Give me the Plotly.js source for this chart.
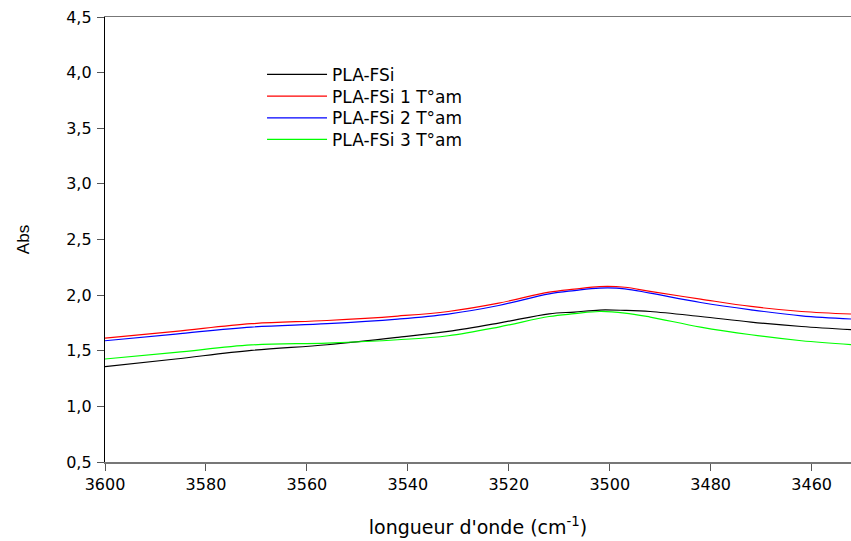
<!DOCTYPE html>
<html>
<head>
<meta charset="utf-8">
<script src="https://cdn.plot.ly/plotly-3.0.1.min.js"></script>
<style>html,body{margin:0;padding:0;background:#fff;}#chart{width:851px;height:541px;}</style>
</head>
<body>
<div id="chart"></div>
<script>
const wavenumber = [3600, 3586, 3571, 3556, 3542, 3532, 3522, 3512, 3507, 3502, 3497, 3492, 3482, 3472, 3462, 3452];
const plaFSi   = [1.357, 1.426, 1.503, 1.554, 1.620, 1.674, 1.749, 1.832, 1.848, 1.866, 1.863, 1.853, 1.808, 1.758, 1.718, 1.689];
const plaFSi1  = [1.614, 1.674, 1.743, 1.772, 1.812, 1.853, 1.928, 2.027, 2.054, 2.077, 2.071, 2.033, 1.964, 1.898, 1.853, 1.830];
const plaFSi2  = [1.590, 1.650, 1.713, 1.743, 1.785, 1.830, 1.907, 2.012, 2.041, 2.063, 2.057, 2.018, 1.934, 1.868, 1.814, 1.785];
const plaFSi3  = [1.426, 1.485, 1.552, 1.569, 1.599, 1.635, 1.713, 1.808, 1.833, 1.853, 1.839, 1.803, 1.713, 1.644, 1.590, 1.554];
const seriesNames = ['PLA-FSi', 'PLA-FSi 1 T°am', 'PLA-FSi 2 T°am', 'PLA-FSi 3 T°am'];
const seriesColors = ['#000000', '#ff0000', '#0000ff', '#00ff00'];
const seriesData = [plaFSi, plaFSi1, plaFSi2, plaFSi3];
const xTicks = [3600, 3580, 3560, 3540, 3520, 3500, 3480, 3460];
const yTicks = [0.5, 1.0, 1.5, 2.0, 2.5, 3.0, 3.5, 4.0, 4.5];

const legendIds = ['legend', 'legend2', 'legend3', 'legend4'];
const traces = seriesData.map((ys, i) => ({
  x: wavenumber, y: ys, type: 'scatter', mode: 'lines',
  name: seriesNames[i], legend: legendIds[i],
  line: {color: seriesColors[i], width: 1.2, shape: 'spline', smoothing: 1}
}));

const wide = {family: 'DejaVu Sans, sans-serif', color: '#000'};
const arial = {family: 'Liberation Sans, Arial, sans-serif', color: '#000'};
const legendTops = [0.9103, 0.8616, 0.8128, 0.7643];
const layout = {
  width: 851, height: 541,
  margin: {l: 105, r: 0, t: 17, b: 79},
  paper_bgcolor: '#fff', plot_bgcolor: '#fff',
  separators: ', ',
  showlegend: true,
  xaxis: {
    range: [3600, 3452.2], autorange: false,
    tickvals: xTicks,
    ticks: 'outside', ticklen: 7, tickcolor: '#555', tickwidth: 1,
    showline: true, linecolor: '#777', linewidth: 1.5, mirror: true,
    showgrid: false, zeroline: false,
    tickfont: Object.assign({size: 16}, wide),
    title: {text: "longueur d'onde (cm<sup>-1</sup>)", font: Object.assign({size: 19}, wide), standoff: 28}
  },
  yaxis: {
    range: [0.5, 4.5], autorange: false,
    tickvals: yTicks,
    tickformat: '.1f',
    ticks: 'outside', ticklen: 7, tickcolor: '#555', tickwidth: 1,
    ticklabelstandoff: 2,
    showline: true, linecolor: '#000', linewidth: 1.2, mirror: false,
    showgrid: false, zeroline: false,
    tickfont: Object.assign({size: 16}, wide),
    title: {text: 'Abs', font: Object.assign({size: 17}, arial), standoff: 32}
  }
};
legendIds.forEach((id, i) => {
  layout[id] = {
    x: 0.2105, y: legendTops[i], xanchor: 'left', yanchor: 'top',
    bgcolor: 'rgba(0,0,0,0)', borderwidth: 0,
    font: Object.assign({size: 17}, wide),
    itemwidth: 60
  };
});
Plotly.newPlot('chart', traces, layout, {displayModeBar: false, staticPlot: true});
</script>
</body>
</html>
